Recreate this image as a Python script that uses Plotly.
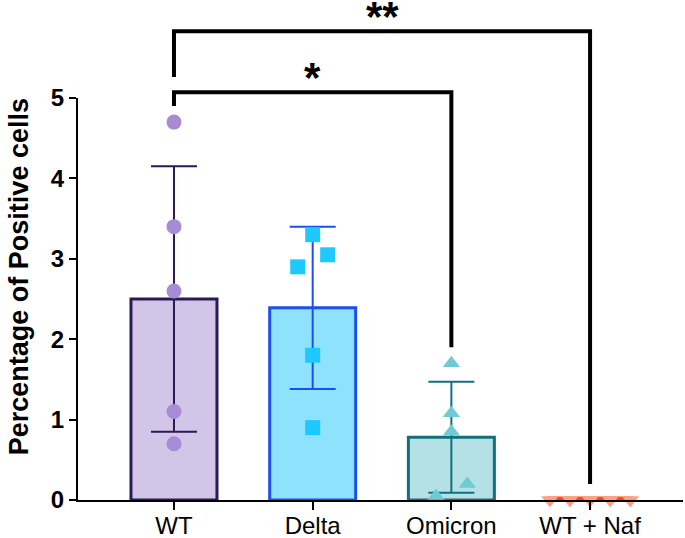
import plotly.graph_objects as go

# ---- data ----
groups = ["WT", "Delta", "Omicron", "WT + Naf"]
means = [2.50, 2.39, 0.78, 0.0]
sds = [1.65, 1.01, 0.69, 0.0]
wt_points = [4.7, 3.4, 2.6, 1.1, 0.7]
delta_points = [3.3, 3.05, 2.9, 1.8, 0.9]
omicron_points = [1.7, 1.08, 0.85, 0.2, 0.05]
naf_points = [0.0, 0.0, 0.0, 0.0, 0.0]
points = [wt_points, delta_points, omicron_points, naf_points]

# significance comparisons: (group a, group b, bracket level, left end, right end, label)
comparisons = [
    (0, 2, 5.07, 4.90, 1.90, "*"),
    (0, 3, 5.83, 5.26, 0.20, "**"),
]

# ---- style ----
YMAX = 5
fills = ["#d1c5e8", "#8ee2fb", "#b4e1e5", "#ffd3c2"]
outlines = ["#2c1a55", "#1b4ff0", "#12707d", "#ff4a10"]
outline_w = [3, 3, 3, 7]
pt_colors = ["#a78bd4", "#1ec9ff", "#6ecbd3", "#ffa07f"]
symbols = ["circle", "square", "triangle-up", "triangle-down"]
jitter = [
    [0, 0, 0, 0, 0],
    [0, 0.108, -0.108, 0, 0],
    [0, 0, 0, 0.115, -0.11],
    [-0.29, -0.145, 0, 0.145, 0.29],
]
FONT = "Liberation Sans, Arial, sans-serif"

fig = go.Figure()
for i, g in enumerate(groups):
    fig.add_trace(go.Bar(
        x=[i], y=[means[i]], width=0.62,
        marker=dict(color=fills[i], line=dict(color=outlines[i], width=outline_w[i])),
        error_y=dict(type="data", array=[sds[i]], visible=True,
                     color=outlines[i], thickness=2, width=23),
        showlegend=False, name=g,
    ))
for i, g in enumerate(groups):
    fig.add_trace(go.Scatter(
        x=[i + j for j in jitter[i]], y=points[i], mode="markers",
        marker=dict(symbol=symbols[i], size=15, color=pt_colors[i]),
        cliponaxis=False, showlegend=False, name=g,
    ))

for a, b, lvl, lend, rend, lab in comparisons:
    path = (f"M {a},{lend / YMAX} L {a},{lvl / YMAX} "
            f"L {b},{lvl / YMAX} L {b},{rend / YMAX}")
    fig.add_shape(type="path", path=path, xref="x", yref="paper",
                  line=dict(color="black", width=4))
    fig.add_annotation(x=(a + b) / 2, y=lvl / YMAX, xref="x", yref="paper",
                       text=f"<b>{lab}</b>", showarrow=False,
                       yanchor="bottom", yshift=-11,
                       font=dict(family=FONT, size=42, color="black"))

fig.add_annotation(text="<b>Percentage of Positive cells</b>",
                   xref="paper", yref="paper", x=-0.097, y=0.555,
                   textangle=-90, showarrow=False,
                   xanchor="center", yanchor="middle",
                   font=dict(family=FONT, size=27, color="black"))

fig.update_layout(
    width=685, height=538,
    margin=dict(l=78, r=2, t=98, b=38, autoexpand=False),
    plot_bgcolor="white", paper_bgcolor="white",
    barmode="overlay",
    xaxis=dict(range=[-0.692, 3.67], tickvals=list(range(len(groups))),
               ticktext=groups, showline=True, linecolor="black", linewidth=2,
               ticks="outside", ticklen=8, tickwidth=2, tickcolor="black",
               ticklabelstandoff=-5,
               showgrid=False, zeroline=False,
               tickfont=dict(family=FONT, size=24, color="black")),
    yaxis=dict(range=[0, YMAX], dtick=1, showline=True, linecolor="black",
               linewidth=2, ticks="outside", ticklen=7, tickwidth=2,
               tickcolor="black", showgrid=False, zeroline=False,
               tickfont=dict(family=FONT, size=24, color="black", weight="bold")),
)

fig.write_html("out.html",
               config={"displayModeBar": False},
               post_script="document.body.style.margin='0';"
                           "document.body.style.overflow='hidden';")
